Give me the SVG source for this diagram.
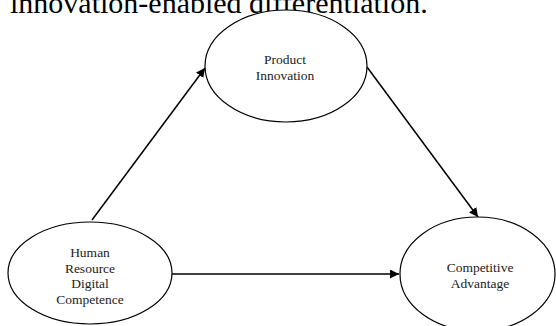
<svg xmlns="http://www.w3.org/2000/svg" width="556" height="326" viewBox="0 0 556 326">
<style>
.node ellipse{fill:#fff;stroke:#000;stroke-width:1.2}
.lbl{font-family:"Liberation Serif","Times New Roman",serif;font-size:13.5px;fill:#222;text-anchor:middle}
.edge{stroke:#000;stroke-width:1.5;fill:none;marker-end:url(#ah)}
.title{font-family:"Liberation Serif","Times New Roman",serif;font-size:30px;fill:#000}
</style>
<defs>
<marker id="ah" viewBox="0 0 10 10" refX="10" refY="5" markerWidth="6" markerHeight="6" orient="auto" markerUnits="strokeWidth">
<path d="M0,0 L10,5 L0,10 z" fill="#000"/>
</marker>
</defs>
<rect width="556" height="326" fill="#fff"/>
<text class="title" x="10" y="13">innovation-enabled differentiation.</text>
<g id="connectors">
<line class="edge" x1="92" y1="220" x2="205" y2="68"/>
<line class="edge" x1="367" y1="67" x2="478" y2="217"/>
<line class="edge" x1="172" y1="274" x2="399" y2="274"/>
</g>
<g id="node-product-innovation" class="node">
<ellipse cx="286" cy="66" rx="81" ry="56"/>
<text class="lbl" x="285" y="64">Product</text>
<text class="lbl" x="285" y="80">Innovation</text>
</g>
<g id="node-hr-digital-competence" class="node">
<ellipse cx="90" cy="273" rx="82" ry="51"/>
<text class="lbl" x="90" y="257">Human</text>
<text class="lbl" x="90" y="272.5">Resource</text>
<text class="lbl" x="90" y="288">Digital</text>
<text class="lbl" x="90" y="303.5">Competence</text>
</g>
<g id="node-competitive-advantage" class="node">
<ellipse cx="477.5" cy="274" rx="77.5" ry="57"/>
<text class="lbl" x="480" y="272">Competitive</text>
<text class="lbl" x="480" y="287.5">Advantage</text>
</g>
</svg>
